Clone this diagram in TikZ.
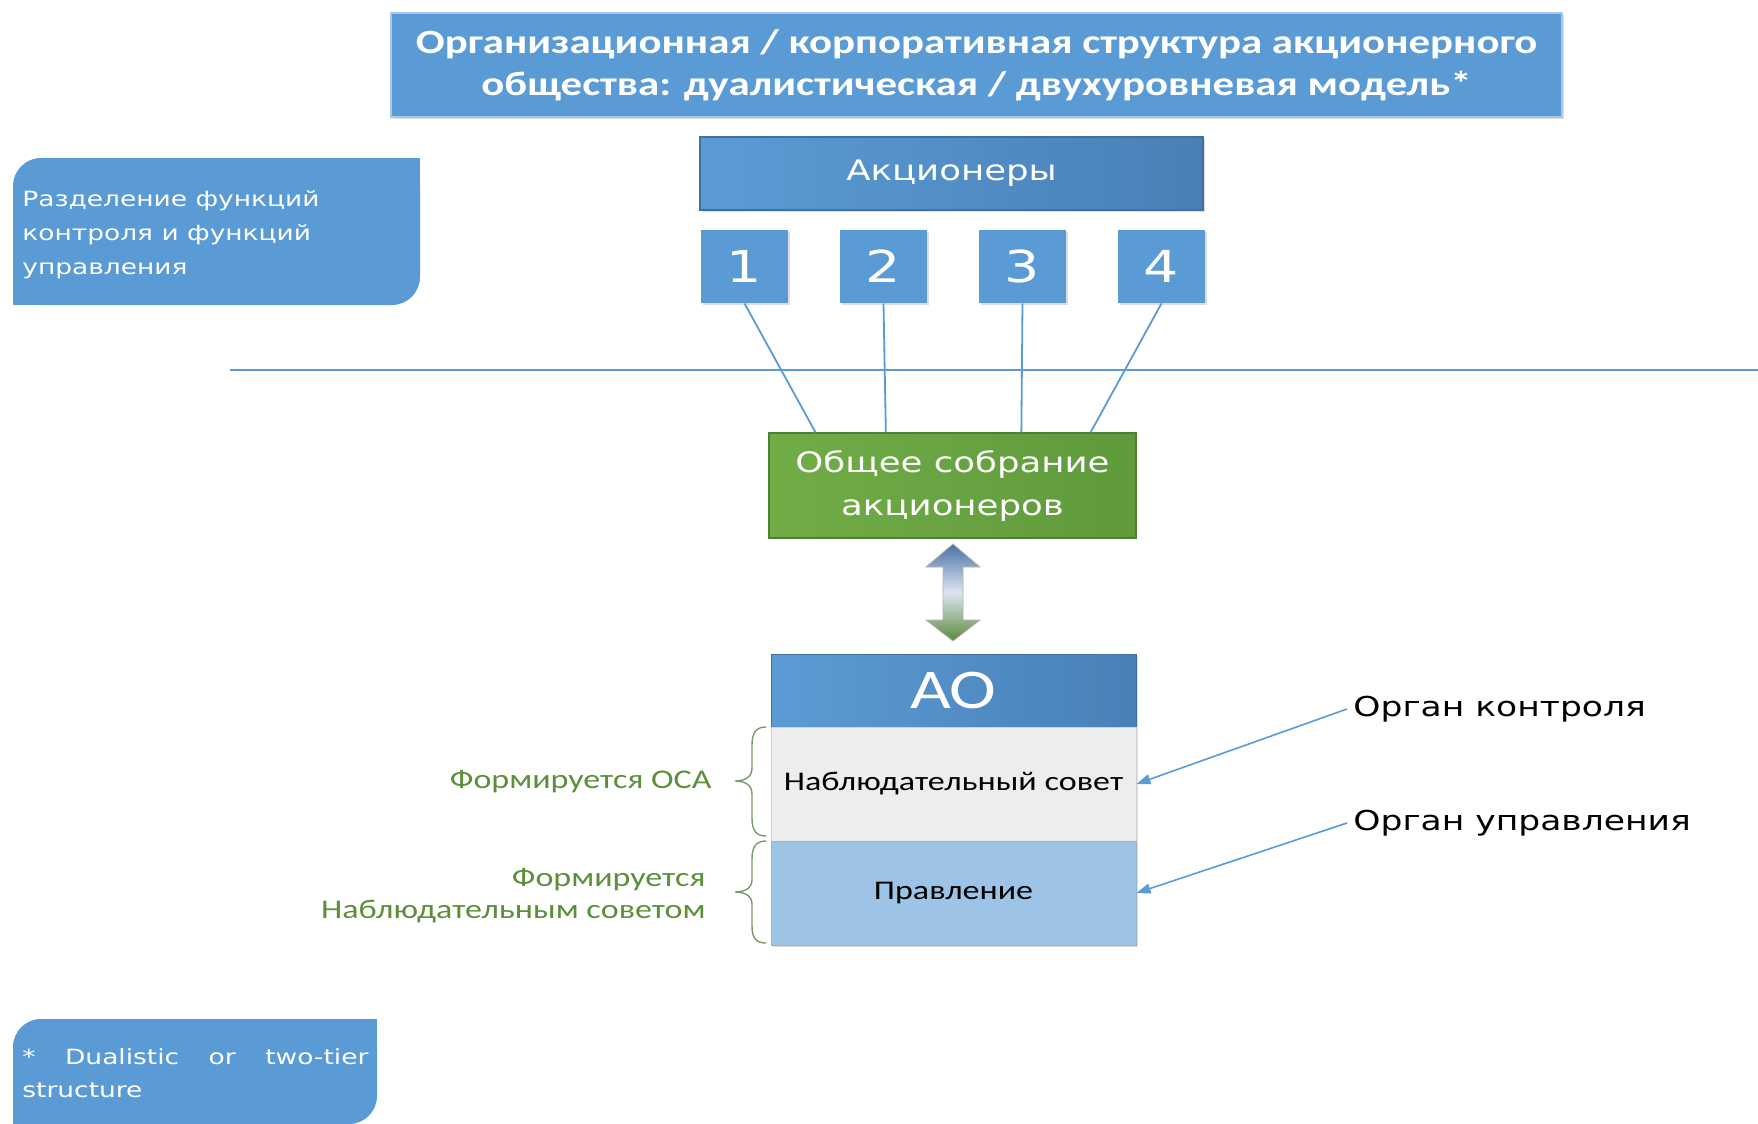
\documentclass[tikz,border=0pt]{standalone}
\usepackage{fontspec}
\setmainfont{DejaVu Sans}[FakeStretch=1.26]
\newfontfamily\calfont{Carlito}[FakeStretch=1.26]
\usetikzlibrary{arrows.meta,calc,shadows}
\definecolor{oblue}{HTML}{5B9BD5}
\definecolor{oblued}{HTML}{4A80B8}
\definecolor{oborder}{HTML}{41719C}
\definecolor{ogreen}{HTML}{70AD47}
\definecolor{ogreend}{HTML}{5F9A3B}
\definecolor{ogborder}{HTML}{507E32}
\definecolor{lgray}{HTML}{EDEDED}
\definecolor{lblue}{HTML}{9DC3E6}
\definecolor{lblgreen}{HTML}{5B8F3A}
\definecolor{brgreen}{HTML}{7A9A6A}
\definecolor{arrtop}{HTML}{4A6FA5}
\definecolor{arrmid}{HTML}{DCE6F0}
\definecolor{arrbot}{HTML}{5B8A3B}
\tikzset{
  shd/.style={drop shadow={opacity=0.22, shadow xshift=1.2pt, shadow yshift=-1.2pt, fill=black!60}},
  bluebox/.style={fill=oblue, inner sep=0pt, text=white, shd},
  numbox/.style={bluebox, minimum width=43.5pt, minimum height=36.5pt, font=\fontsize{22}{26}\selectfont},
  conn/.style={draw=oblue, line width=0.9pt},
  lbl/.style={text=lblgreen, font=\calfont\fontsize{13.5}{16}\selectfont, inner sep=0pt},
  organ/.style={font=\fontsize{13.7}{16}\selectfont, inner sep=3pt, anchor=west},
  organarrow/.style={draw=oblue, line width=0.8pt, -{Triangle[length=7pt,width=5pt]}},
  bracestyle/.style={draw=brgreen, line width=0.7pt}
}
\begin{document}
\begin{tikzpicture}[x=0.5pt,y=-0.5pt]
\useasboundingbox[fill=white] (0,0) rectangle (1758,1124);

% title
\node[bluebox, draw=oblue!55!white, line width=0.8pt, minimum width=585.5pt, minimum height=52pt,
  align=center, font=\calfont\bfseries\fontsize{17}{21}\selectfont] (title) at (976.5,65)
  {Организационная / корпоративная структура акционерного\\общества: дуалистическая / двухуровневая модель*};

% left note box
\fill[oblue, rounded corners=14pt] (13,158) rectangle (420,305);
\fill[oblue] (370,158) rectangle (420,210);
\fill[oblue] (13,255) rectangle (63,305);
\node[anchor=west, align=left, text=white, inner sep=0pt, font=\fontsize{10.5}{17}\selectfont] (lnote) at (22,234.5)
  {Разделение функций\\контроля и функций\\управления};

% shareholders
\node[bluebox, left color=oblue, right color=oblued, draw=oborder, line width=0.6pt,
  minimum width=251.5pt, minimum height=36.5pt, font=\fontsize{14.1}{17}\selectfont] (akc) at (951.5,173.5) {Акционеры};
\node[numbox] (n1) at (744.5,266.5) {1};
\node[numbox] (n2) at (883.5,266.5) {2};
\node[numbox] (n3) at (1022.5,266.5) {3};
\node[numbox] (n4) at (1161.5,266.5) {4};

% separating line
\coordinate (hlA) at (230,370);
\coordinate (hlB) at (1758,370);
\draw[draw=oblue, line width=1.2pt] (hlA) -- (hlB);

% general meeting
\node[left color=ogreen, right color=ogreend, draw=ogborder, line width=0.6pt, inner sep=0pt,
  minimum width=183.5pt, minimum height=52.5pt, align=center, text=white,
  font=\fontsize{14.1}{21.5}\selectfont] (osa) at (952.5,485.5) {Общее собрание\\акционеров};

\draw[conn] (n1.south) -- ($(osa.north west)!0.128!(osa.north east)$);
\draw[conn] (n2.south) -- ($(osa.north west)!0.319!(osa.north east)$);
\draw[conn] (n3.south) -- ($(osa.north west)!0.687!(osa.north east)$);
\draw[conn] (n4.south) -- ($(osa.north west)!0.875!(osa.north east)$);

% double block arrow
\path[top color=arrtop, bottom color=arrbot, middle color=arrmid, draw=gray!60, line width=0.4pt]
  (953,544) -- (980,567) -- (963,567) -- (963,620) -- (980,620) -- (953,641)
  -- (926,620) -- (943,620) -- (943,567) -- (926,567) -- cycle;

% AO stack
\node[bluebox, left color=oblue, right color=oblued, draw=oborder, line width=0.5pt,
  minimum width=182.5pt, minimum height=36.5pt, font=\calfont\fontsize{28}{30}\selectfont] (ao) at (953.5,690.5) {АО};
\node[fill=lgray, draw=gray!35, line width=0.5pt, inner sep=0pt, minimum width=182.5pt, minimum height=57pt,
  font=\calfont\fontsize{13.5}{16}\selectfont, shd] (ns) at (953.5,784) {Наблюдательный совет};
\node[fill=lblue, draw=lblue!80!gray, line width=0.5pt, inner sep=0pt, minimum width=182.5pt, minimum height=52pt,
  font=\calfont\fontsize{13.5}{16}\selectfont, shd] (pr) at (953.5,893) {Правление};

% braces
\draw[bracestyle] (766,727) .. controls (756,727) and (752,733) .. (752,745) -- (752,768)
  .. controls (752,777) and (745,781) .. (735,781) .. controls (745,781) and (752,785) .. (752,794)
  -- (752,818) .. controls (752,830) and (756,836) .. (766,836);
\draw[bracestyle] (766,841) .. controls (756,841) and (752,847) .. (752,859) -- (752,880)
  .. controls (752,888) and (745,892) .. (735,892) .. controls (745,892) and (752,896) .. (752,904)
  -- (752,926) .. controls (752,938) and (756,943) .. (766,943);

% left labels
\node[lbl, anchor=east] (f1) at (712,782) {Формируется ОСА};
\node[lbl, anchor=east, align=right] (f2) at (706,896) {Формируется\\Наблюдательным советом};

% right labels
\node[organ] (org1) at (1347,709) {Орган контроля};
\node[organ] (org2) at (1347,823) {Орган управления};
\draw[organarrow] (org1.west) -- (ns.east);
\draw[organarrow] (org2.west) -- (pr.east);

% footnote box
\fill[oblue, rounded corners=14pt] (13,1019) rectangle (377,1124);
\fill[oblue] (327,1019) rectangle (377,1069);
\fill[oblue] (13,1074) rectangle (63,1124);
\node[anchor=west, text width=173pt, align=justify, text=white, inner sep=0pt,
  font=\fontsize{10.5}{16.5}\selectfont] (foot) at (22,1073)
  {* Dualistic or two-tier\linebreak structure};
\end{tikzpicture}
\end{document}
